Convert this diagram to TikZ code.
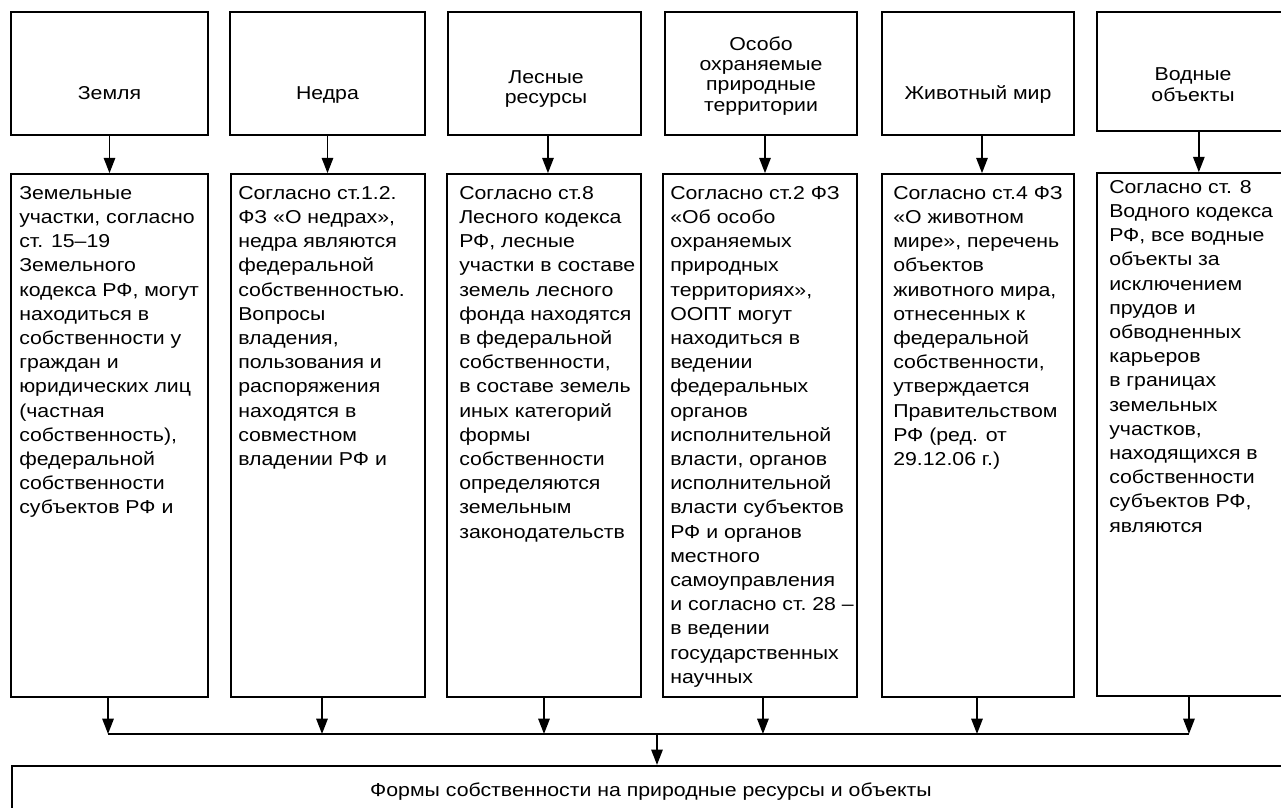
\documentclass[tikz,border=0pt]{standalone}
\usepackage{fontspec}
\setmainfont{Liberation Sans}[FakeStretch=1.14]
\usetikzlibrary{arrows.meta}
\newcommand{\myStrut}{\rule{0pt}{11pt}}
\begin{document}
\begin{tikzpicture}[x=0.75pt,y=-0.75pt,
  box/.style={draw,line width=1.2pt,inner sep=0pt},
  head/.style={inner sep=0pt,font=\fontsize{14}{15.2}\selectfont,align=center,anchor=north},
  body/.style={inner sep=0pt,font=\fontsize{14}{18.15}\selectfont,align=left,anchor=north west},
  conn/.style={line width=1.2pt},
  arr/.style={line width=1.4pt,-{Triangle[length=11.5pt,width=8.5pt]}},
]
\useasboundingbox (0,0) rectangle (1281,807);
\clip (0,0) rectangle (1281,807);

% top boxes
\node[box,minimum width=147.75pt,minimum height=92.25pt] (t1) at (109.5,73.5) {};
\node[box,minimum width=146.25pt,minimum height=92.25pt] (t2) at (327.5,73.5) {};
\node[box,minimum width=144.75pt,minimum height=92.25pt] (t3) at (544.5,73.5) {};
\node[box,minimum width=144pt,minimum height=92.25pt] (t4) at (761,73.5) {};
\node[box,minimum width=144pt,minimum height=92.25pt] (t5) at (978,73.5) {};
\node[box,minimum width=144.75pt,minimum height=89.25pt] (t6) at (1193.5,71.5) {};

% header texts (y = first baseline - 14.67)
\node[head] (h1) at (109.5,84.3) {\myStrut Земля};
\node[head] (h2) at (327.5,84.3) {\myStrut Недра};
\node[head] (h3) at (546,68.3) {\myStrut Лесные\\ресурсы};
\node[head] (h4) at (761,35.3) {\myStrut Особо\\охраняемые\\природные\\территории};
\node[head] (h5) at (978,84.3) {\myStrut Животный мир};
\node[head,font=\fontsize{14}{16.2}\selectfont] (h6) at (1193,65.3) {\myStrut Водные\\объекты};

% lower boxes
\node[box,minimum width=147.75pt,minimum height=392.25pt] (b1) at (109.5,435.5) {};
\node[box,minimum width=145.5pt,minimum height=392.25pt] (b2) at (328,435.5) {};
\node[box,minimum width=145.5pt,minimum height=392.25pt] (b3) at (544,435.5) {};
\node[box,minimum width=145.5pt,minimum height=392.25pt] (b4) at (760,435.5) {};
\node[box,minimum width=144pt,minimum height=392.25pt] (b5) at (978,435.5) {};
\node[box,minimum width=144.75pt,minimum height=392.25pt] (b6) at (1193.5,434.5) {};

\node[body] (x1) at (19,184.3) {\myStrut Земельные\\участки, согласно\\ст. 15–19\\Земельного\\кодекса РФ, могут\\находиться в\\собственности у\\граждан и\\юридических лиц\\(частная\\собственность),\\федеральной\\собственности\\субъектов РФ и};
\node[body] (x2) at (238,184.3) {\myStrut Согласно ст.1.2.\\ФЗ «О недрах»,\\недра являются\\федеральной\\собственностью.\\Вопросы\\владения,\\пользования и\\распоряжения\\находятся в\\совместном\\владении РФ и};
\node[body] (x3) at (459,184.3) {\myStrut Согласно ст.8\\Лесного кодекса\\РФ, лесные\\участки в составе\\земель лесного\\фонда находятся\\в федеральной\\собственности,\\в составе земель\\иных категорий\\формы\\собственности\\определяются\\земельным\\законодательств};
\node[body] (x4) at (670,184.3) {\myStrut Согласно ст.2 ФЗ\\«Об особо\\охраняемых\\природных\\территориях»,\\ООПТ могут\\находиться в\\ведении\\федеральных\\органов\\исполнительной\\власти, органов\\исполнительной\\власти субъектов\\РФ и органов\\местного\\самоуправления\\и согласно ст.~28 –\\в ведении\\государственных\\научных};
\node[body] (x5) at (893,184.3) {\myStrut Согласно ст.4 ФЗ\\«О животном\\мире», перечень\\объектов\\животного мира,\\отнесенных к\\федеральной\\собственности,\\утверждается\\Правительством\\РФ (ред. от\\29.12.06 г.)};
\node[body] (x6) at (1109,178.3) {\myStrut Согласно ст. 8\\Водного кодекса\\РФ, все водные\\объекты за\\исключением\\прудов и\\обводненных\\карьеров\\в границах\\земельных\\участков,\\находящихся в\\собственности\\субъектов РФ,\\являются};

% bottom box
\node[draw,line width=1.6pt,inner sep=0pt,minimum width=966pt,minimum height=70.5pt] (F) at (656,813) {};
\node[head] (ft) at (651,781.3) {\myStrut Формы собственности на природные ресурсы и объекты};

% arrows top -> lower
\draw[arr] (t1.south) -- (t1.south |- b1.north);
\draw[arr] (t2.south) -- (t2.south |- b2.north);
\draw[arr] ([xshift=2.6pt]t3.south) -- ([xshift=2.6pt]t3.south |- b3.north);
\draw[arr] ([xshift=3pt]t4.south) -- ([xshift=3pt]t4.south |- b4.north);
\draw[arr] ([xshift=3pt]t5.south) -- ([xshift=3pt]t5.south |- b5.north);
\draw[arr] ([xshift=4pt]t6.south) -- ([xshift=4pt]t6.south |- b6.north);

% bus
\coordinate (busL) at (108,734);
\coordinate (busR) at (1189,734);
\coordinate (busM) at (657,734);
\draw[arr] ([xshift=-1.1pt]b1.south) -- ([xshift=-1.1pt]b1.south |- busL);
\draw[arr] ([xshift=-4.5pt]b2.south) -- ([xshift=-4.5pt]b2.south |- busL);
\draw[arr] (b3.south) -- (b3.south |- busL);
\draw[arr] ([xshift=2.2pt]b4.south) -- ([xshift=2.2pt]b4.south |- busL);
\draw[arr] ([xshift=-0.75pt]b5.south) -- ([xshift=-0.75pt]b5.south |- busL);
\draw[arr] ([xshift=-3.4pt]b6.south) -- ([xshift=-3.4pt]b6.south |- busL);
\draw[conn] (busL) -- (busR);
\draw[arr] (busM) -- (busM |- F.north);
\end{tikzpicture}
\end{document}
